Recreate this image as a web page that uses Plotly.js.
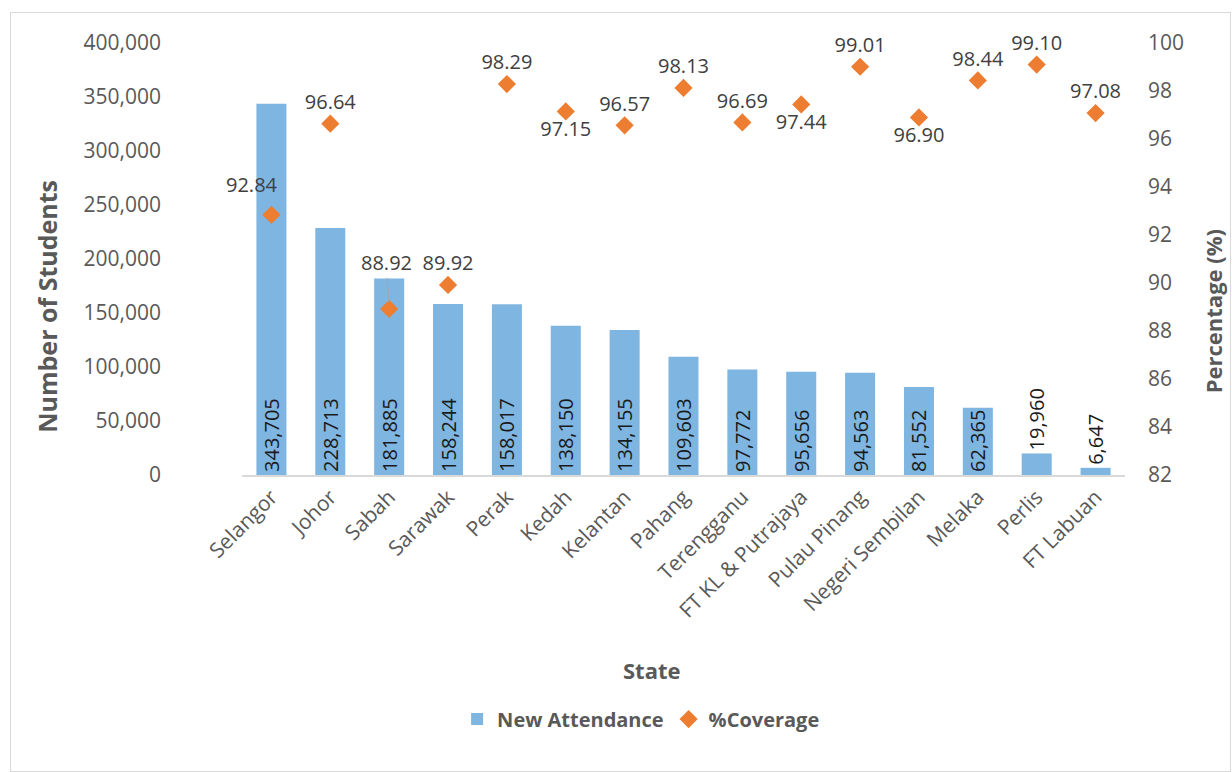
<!DOCTYPE html>
<html>
<head>
<meta charset="utf-8">
<script src="https://cdn.plot.ly/plotly-3.0.1.min.js"></script>
<style>
  html, body { margin: 0; padding: 0; background: #ffffff; }
  #wrap { position: absolute; left: 10px; top: 12px; width: 1219px; height: 758px; border: 1px solid #d9d9d9; }
  #chart { width: 1219px; height: 758px; }
</style>
</head>
<body>
<div id="wrap"><div id="chart"></div></div>
<script>
const states = ["Selangor","Johor","Sabah","Sarawak","Perak","Kedah","Kelantan","Pahang","Terengganu","FT KL & Putrajaya","Pulau Pinang","Negeri Sembilan","Melaka","Perlis","FT Labuan"];
const newAttendance = [343705,228713,181885,158244,158017,138150,134155,109603,97772,95656,94563,81552,62365,19960,6647];
const coverage = [92.84,96.64,88.92,89.92,98.29,97.15,96.57,98.13,96.69,97.44,99.01,96.90,98.44,99.10,97.08];
const barLabelPos = ["inside","inside","inside","inside","inside","inside","inside","inside","inside","inside","inside","inside","inside","outside","outside"];
const coverageLabelPos = ["top center","top center","top center","top center","top center","bottom center","top center","top center","top center","bottom center","top center","bottom center","top center","top center","top center"];
// Selangor and Sabah labels are drawn as annotations (offset / leader line)
const coverageLabels = coverage.map((v, i) => (i === 0 || i === 2) ? "" : v.toFixed(2));

const FONT = "Open Sans, Liberation Sans, sans-serif";
const GREY = "#595959";
const LBL = { family: FONT, size: 20, color: "#404040" };

const traces = [
  {
    type: "bar",
    name: "New Attendance",
    x: states,
    y: newAttendance,
    marker: { color: "#7fb5e1" },
    text: newAttendance.map(v => v.toLocaleString("en-US")),
    textposition: barLabelPos,
    insidetextanchor: "start",
    textangle: -90,
    constraintext: "none",
    cliponaxis: false,
    textfont: { family: FONT, size: 20, color: "#1a1a1a" },
    hoverinfo: "x+y"
  },
  {
    type: "scatter",
    mode: "markers+text",
    name: "%Coverage",
    x: states,
    y: coverage,
    yaxis: "y2",
    marker: { symbol: "diamond", size: 14, color: "#ed7d31" },
    text: coverageLabels,
    textposition: coverageLabelPos,
    cliponaxis: false,
    textfont: LBL
  }
];

const layout = {
  width: 1219,
  height: 758,
  margin: { l: 230.5, r: 104.5, t: 30, b: 296 },
  paper_bgcolor: "#ffffff",
  plot_bgcolor: "#ffffff",
  font: { family: FONT, color: GREY, size: 20 },
  bargap: 0.49,
  showlegend: true,
  legend: {
    orientation: "h",
    x: 0.452, xref: "paper", xanchor: "center",
    y: -0.565, yanchor: "middle",
    font: { family: FONT, size: 20, color: GREY, weight: "bold" },
    itemwidth: 30,
    traceorder: "normal"
  },
  xaxis: {
    type: "category",
    automargin: false,
    range: [-0.5, 14.5],
    showline: true,
    linecolor: "#d9d9d9",
    linewidth: 1.5,
    ticks: "",
    showgrid: false,
    tickangle: -45,
    tickfont: { family: FONT, size: 21, color: GREY }
  },
  yaxis: {
    automargin: false,
    range: [0, 400000],
    dtick: 50000,
    tickformat: ",",
    showgrid: false,
    zeroline: false,
    showline: false,
    ticks: "",
    ticklabelstandoff: 80,
    tickfont: { family: FONT, size: 21, color: GREY }
  },
  yaxis2: {
    automargin: false,
    overlaying: "y",
    side: "right",
    range: [82, 100],
    dtick: 2,
    showgrid: false,
    zeroline: false,
    showline: false,
    ticks: "",
    ticklabelstandoff: 22,
    tickfont: { family: FONT, size: 21, color: GREY }
  },
  annotations: [
    {
      x: states[0], y: coverage[0], xref: "x", yref: "y2",
      text: coverage[0].toFixed(2),
      showarrow: false, xshift: -19, yshift: 30,
      font: LBL
    },
    {
      x: states[2], y: coverage[2], xref: "x", yref: "y2",
      text: coverage[2].toFixed(2),
      showarrow: true, arrowhead: 0, arrowwidth: 1.2, arrowcolor: "#a6a6a6",
      ax: -3, ay: -46, standoff: 7,
      font: LBL
    },
    {
      text: "Number of Students", xref: "paper", yref: "paper",
      x: -0.2212, y: 0.391, xanchor: "center", yanchor: "middle",
      textangle: -90, showarrow: false,
      font: { family: FONT, size: 25, color: GREY, weight: "bold" }
    },
    {
      text: "Percentage (%)", xref: "paper", yref: "paper",
      x: 1.099, y: 0.380, xanchor: "center", yanchor: "middle",
      textangle: -90, showarrow: false,
      font: { family: FONT, size: 22, color: GREY, weight: "bold" }
    },
    {
      text: "State", xref: "paper", yref: "paper",
      x: 0.4644, y: -0.451, xanchor: "center", yanchor: "middle",
      showarrow: false,
      font: { family: FONT, size: 22, color: GREY, weight: "bold" }
    }
  ]
};

Plotly.newPlot("chart", traces, layout, { displayModeBar: false, staticPlot: true });
</script>
</body>
</html>
